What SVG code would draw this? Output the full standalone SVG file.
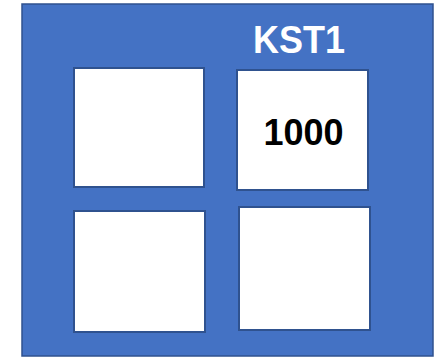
<svg xmlns="http://www.w3.org/2000/svg" width="444" height="357" viewBox="0 0 444 357">
<style>
.outer{fill:#4472C4;stroke:#2F528F;stroke-width:1.5}
.cell{fill:#FFFFFF;stroke:#2F528F;stroke-width:2}
.lbl{font-family:"Liberation Sans",Arial,sans-serif;font-weight:bold;text-anchor:middle}
</style>
<g id="kst1">
<rect class="outer" x="22" y="4" width="411" height="352"/>
<text class="lbl" x="299" y="53" font-size="38" fill="#FFFFFF" textLength="92" lengthAdjust="spacingAndGlyphs">KST1</text>
</g>
<g id="cell-tl"><rect class="cell" x="74" y="68" width="130" height="119"/></g>
<g id="cell-tr"><rect class="cell" x="237" y="70" width="131" height="120"/>
<text class="lbl" x="303.5" y="145" font-size="36" fill="#000000">1000</text></g>
<g id="cell-bl"><rect class="cell" x="74" y="211" width="131" height="121"/></g>
<g id="cell-br"><rect class="cell" x="239" y="207" width="131" height="123"/></g>
<g id="connectors"/>
</svg>
